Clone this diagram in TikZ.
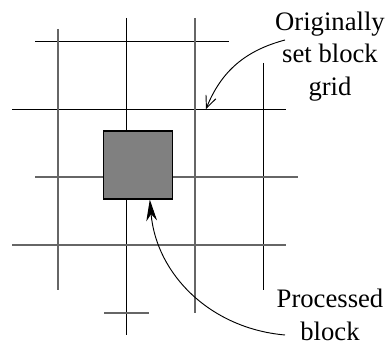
\documentclass[tikz,border=0pt]{standalone}
\usepackage{fontspec}
\setmainfont{Liberation Serif}
\usetikzlibrary{arrows.meta}
\definecolor{gridink}{HTML}{000000}
\definecolor{gridgray}{HTML}{666666}
\definecolor{blockgray}{HTML}{808080}
\tikzset{
  gridline/.style={draw=gridink, line width=0.7pt},
  gridpale/.style={draw=gridgray, line width=1.5pt},
  procbox/.style={draw=black, fill=blockgray, line width=0.8pt,
    minimum width=51.75pt, minimum height=51pt, inner sep=0pt},
  caption/.style={align=center, inner sep=0pt, anchor=north,
    font=\fontsize{20}{24.5}\selectfont},
  pointer/.style={-{Straight Barb[length=9pt, width=8pt]}, line width=0.7pt, black},
  hitarrow/.style={-{Stealth[length=16pt, width=8pt, inset=5pt]}, line width=0.7pt, black},
}
\begin{document}
\begin{tikzpicture}[x=0.75pt, y=0.75pt]
\useasboundingbox (0,0) rectangle (388,348);

\foreach \xa/\ya/\xb/\yb in {126/330/126/13, 263/285/263/58, 35/307/229/307, 12/239/286/239} {
  \draw[gridline] (\xa,\ya) -- (\xb,\yb);
}
\foreach \xa/\ya/\xb/\yb in {58/319/58/58, 195/330/195/35, 35/171/298/171,
  12/103/286/103, 104/35/149/35} {
  \draw[gridpale] (\xa,\ya) -- (\xb,\yb);
}

\node[procbox] (block) at (137.8,183) {};

\node[caption] (orig) at (330,336.5) {Originally\\set block\\grid};
\node[caption] (proc) at (330,59) {Processed\\block};

\coordinate (origfrom) at (285,308);
\coordinate (gridmark) at (206,239);
\coordinate (procfrom) at (285,13);
\coordinate (hit) at ([xshift=9pt]block.south);

\draw[pointer] (origfrom) to[out=195, in=68] (gridmark);
\draw[hitarrow] (procfrom) to[out=175, in=-85] (hit);

\end{tikzpicture}
\end{document}
